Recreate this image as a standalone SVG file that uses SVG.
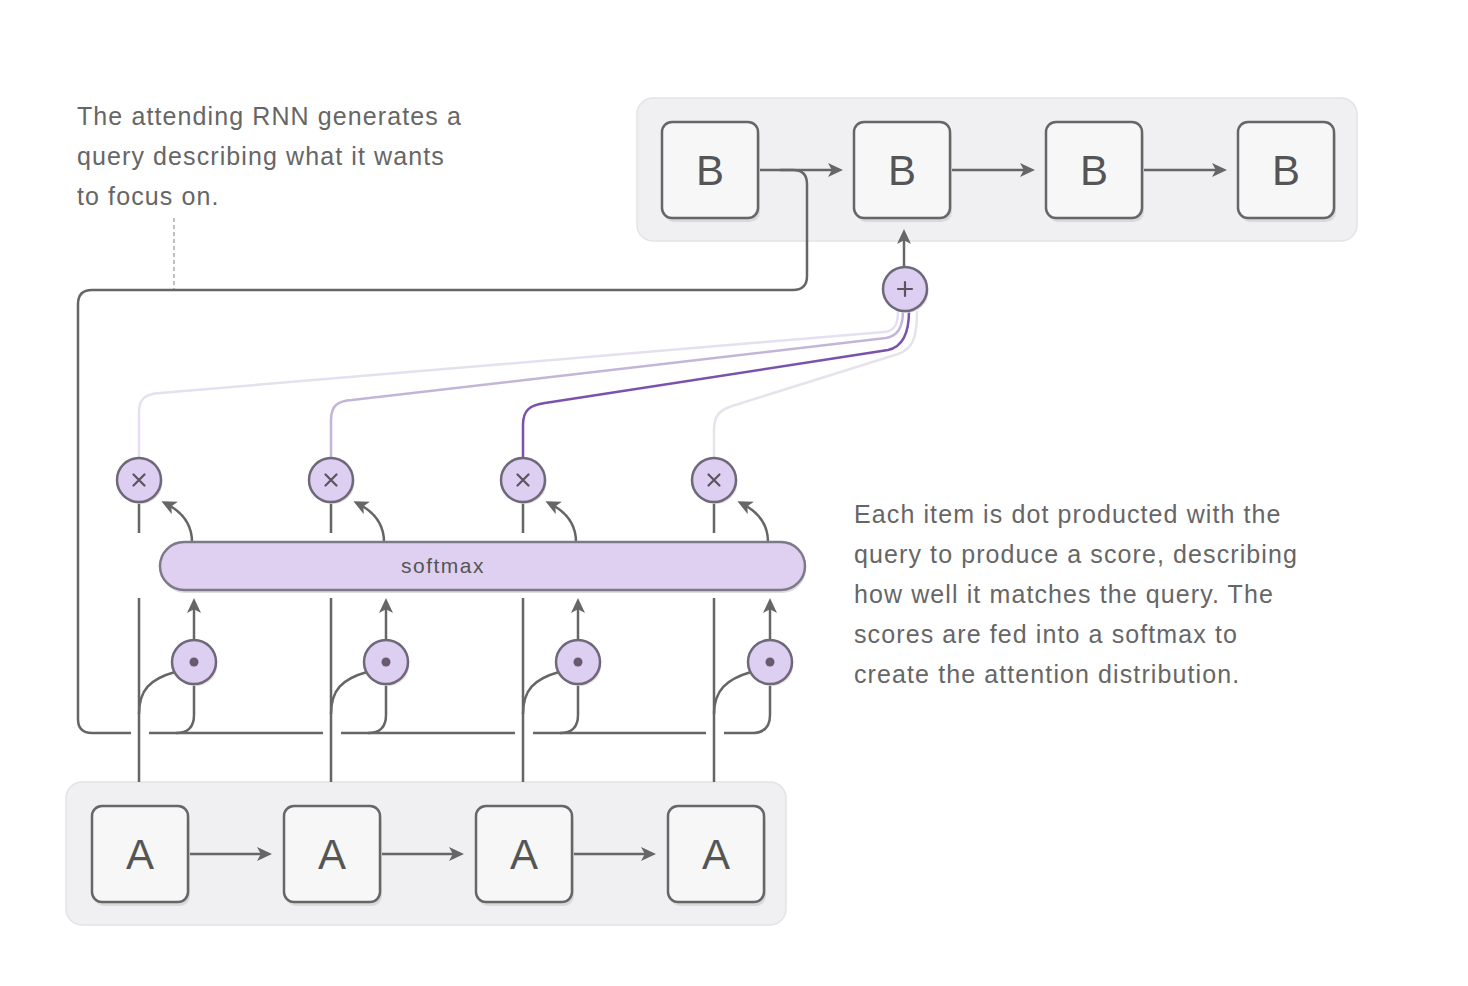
<svg xmlns="http://www.w3.org/2000/svg" width="1468" height="986" viewBox="0 0 1468 986">
<style>
.cont{fill:#f0f0f3;stroke:#e3e3e7;stroke-width:1.5}
.box{fill:#f7f7f8;stroke:#666;stroke-width:2.5}
.shadow{fill:#d9d9de}
.lbl{font-family:"Liberation Sans",Arial,sans-serif;font-size:42px;fill:#555;text-anchor:middle}
.ln{fill:none;stroke:#666;stroke-width:2.5}
.arr{marker-end:url(#ah)}
.op{fill:#dccff1;stroke:#6e6878;stroke-width:2.5}
.opsh{fill:#dcdce0}
.sym{stroke:#5a5560;stroke-width:2.2;fill:none;stroke-linecap:round}
.note{font-family:"Liberation Sans",Arial,sans-serif;font-size:25px;fill:#666;letter-spacing:1.1px}
.pl{fill:none;stroke-width:2.5}
</style>
<defs>
<marker id="ah" viewBox="0 0 15 14" refX="11" refY="7" markerWidth="15" markerHeight="14" markerUnits="userSpaceOnUse" orient="auto"><path d="M0,0 L15,7 L0,14 L3.8,7 z" fill="#666"/></marker>
</defs>
<rect width="1468" height="986" fill="#fff"/>

<g id="containers">
<rect class="cont" x="637" y="98" width="720" height="143" rx="16"/>
<rect class="cont" x="66" y="782" width="720" height="143" rx="16"/>
</g>

<g id="texts">
<text class="note" x="77" y="125">The attending RNN generates a</text>
<text class="note" x="77" y="165">query describing what it wants</text>
<text class="note" x="77" y="205">to focus on.</text>
<text class="note" x="854" y="523">Each item is dot producted with the</text>
<text class="note" x="854" y="563">query to produce a score, describing</text>
<text class="note" x="854" y="603">how well it matches the query. The</text>
<text class="note" x="854" y="643">scores are fed into a softmax to</text>
<text class="note" x="854" y="683">create the attention distribution.</text>
<path d="M174 218 V289" stroke="#aaa" stroke-width="1.5" stroke-dasharray="4 3" fill="none"/>
</g>

<g id="connectors">
<path class="pl" stroke="#e5dff0" d="M139 458 V412 C139 398 146 394 160 393 L884 332 C896 331 898 322 898 311"/>
<path class="pl" stroke="#c3b5da" d="M331 458 V420 C331 405 338 401 352 400 L886 338 C899 336 903 325 903 311"/>
<path class="pl" stroke="#7b52ab" d="M523 458 V425 C523 410 530 405 545 403 L888 350 C902 347 909 335 909 311"/>
<path class="pl" stroke="#e6e3ec" d="M714 458 V430 C714 415 720 410 732 406 L898 354 C912 349 917 340 917 311"/>
<path class="ln arr" d="M758 170 H839"/>
<path class="ln arr" d="M950 170 H1031"/>
<path class="ln arr" d="M1142 170 H1223"/>
<path class="ln arr" d="M904 267 V233"/>
<path class="ln arr" d="M188 854 H268"/>
<path class="ln arr" d="M380 854 H460"/>
<path class="ln arr" d="M572 854 H652"/>
<path class="ln" d="M780 170 H793 Q807 170 807 184 V276 Q807 290 793 290 H92 Q78 290 78 304 V719 Q78 733 92 733 H131"/>
<path class="ln" d="M149 733 H323"/>
<path class="ln" d="M341 733 H515"/>
<path class="ln" d="M533 733 H706"/>
<path class="ln" d="M724 733 H752 Q770 733 770 715 V684"/>
<path class="ln" d="M176 733 Q194 733 194 715 V684"/>
<path class="ln" d="M368 733 Q386 733 386 715 V684"/>
<path class="ln" d="M560 733 Q578 733 578 715 V684"/>
<path class="ln" d="M139 502 V533 M139 598 V782"/>
<path class="ln" d="M331 502 V533 M331 598 V782"/>
<path class="ln" d="M523 502 V533 M523 598 V782"/>
<path class="ln" d="M714 502 V533 M714 598 V782"/>
<path class="ln" d="M139 714 C139 690 150 679 175 672"/>
<path class="ln" d="M331 714 C331 690 342 679 367 672"/>
<path class="ln" d="M523 714 C523 690 534 679 559 672"/>
<path class="ln" d="M714 714 C714 690 727 679 751 672"/>
<path class="ln arr" d="M194 640 V602"/>
<path class="ln arr" d="M386 640 V602"/>
<path class="ln arr" d="M578 640 V602"/>
<path class="ln arr" d="M770 640 V602"/>
<path class="ln arr" d="M192 542 C192 524 183 512 165 503"/>
<path class="ln arr" d="M384 542 C384 524 375 512 357 503"/>
<path class="ln arr" d="M576 542 C576 524 567 512 549 503"/>
<path class="ln arr" d="M768 542 C768 524 759 512 741 503"/>
</g>

<g id="B1"><rect class="shadow" x="664" y="126" width="96" height="96" rx="10"/><rect class="box" x="662" y="122" width="96" height="96" rx="10"/><text class="lbl" x="710" y="185">B</text></g>
<g id="B2"><rect class="shadow" x="856" y="126" width="96" height="96" rx="10"/><rect class="box" x="854" y="122" width="96" height="96" rx="10"/><text class="lbl" x="902" y="185">B</text></g>
<g id="B3"><rect class="shadow" x="1048" y="126" width="96" height="96" rx="10"/><rect class="box" x="1046" y="122" width="96" height="96" rx="10"/><text class="lbl" x="1094" y="185">B</text></g>
<g id="B4"><rect class="shadow" x="1240" y="126" width="96" height="96" rx="10"/><rect class="box" x="1238" y="122" width="96" height="96" rx="10"/><text class="lbl" x="1286" y="185">B</text></g>

<g id="A1"><rect class="shadow" x="94" y="810" width="96" height="96" rx="10"/><rect class="box" x="92" y="806" width="96" height="96" rx="10"/><text class="lbl" x="140" y="869">A</text></g>
<g id="A2"><rect class="shadow" x="286" y="810" width="96" height="96" rx="10"/><rect class="box" x="284" y="806" width="96" height="96" rx="10"/><text class="lbl" x="332" y="869">A</text></g>
<g id="A3"><rect class="shadow" x="478" y="810" width="96" height="96" rx="10"/><rect class="box" x="476" y="806" width="96" height="96" rx="10"/><text class="lbl" x="524" y="869">A</text></g>
<g id="A4"><rect class="shadow" x="670" y="810" width="96" height="96" rx="10"/><rect class="box" x="668" y="806" width="96" height="96" rx="10"/><text class="lbl" x="716" y="869">A</text></g>

<g id="softmax">
<rect x="161" y="545" width="645" height="48" rx="24" fill="#dedee2"/>
<rect x="160" y="542" width="645" height="48" rx="24" fill="#dfd0f2" stroke="#7e7888" stroke-width="2.5"/>
<text x="443" y="573" font-family="Liberation Sans, Arial, sans-serif" font-size="21" fill="#555" text-anchor="middle" letter-spacing="1.5">softmax</text>
</g>

<g id="plus"><circle class="opsh" cx="906.5" cy="291" r="22"/><circle class="op" cx="905" cy="289" r="22"/><path class="sym" d="M898 289 H912 M905 282 V296"/></g>

<g id="mul1"><circle class="opsh" cx="140.5" cy="482" r="22"/><circle class="op" cx="139" cy="480" r="22"/><path class="sym" d="M133.5 474.5 L144.5 485.5 M144.5 474.5 L133.5 485.5"/></g>
<g id="mul2"><circle class="opsh" cx="332.5" cy="482" r="22"/><circle class="op" cx="331" cy="480" r="22"/><path class="sym" d="M325.5 474.5 L336.5 485.5 M336.5 474.5 L325.5 485.5"/></g>
<g id="mul3"><circle class="opsh" cx="524.5" cy="482" r="22"/><circle class="op" cx="523" cy="480" r="22"/><path class="sym" d="M517.5 474.5 L528.5 485.5 M528.5 474.5 L517.5 485.5"/></g>
<g id="mul4"><circle class="opsh" cx="715.5" cy="482" r="22"/><circle class="op" cx="714" cy="480" r="22"/><path class="sym" d="M708.5 474.5 L719.5 485.5 M719.5 474.5 L708.5 485.5"/></g>

<g id="dot1"><circle class="opsh" cx="195.5" cy="664" r="22"/><circle class="op" cx="194" cy="662" r="22"/><circle cx="194" cy="662" r="4.5" fill="#6a5a70"/></g>
<g id="dot2"><circle class="opsh" cx="387.5" cy="664" r="22"/><circle class="op" cx="386" cy="662" r="22"/><circle cx="386" cy="662" r="4.5" fill="#6a5a70"/></g>
<g id="dot3"><circle class="opsh" cx="579.5" cy="664" r="22"/><circle class="op" cx="578" cy="662" r="22"/><circle cx="578" cy="662" r="4.5" fill="#6a5a70"/></g>
<g id="dot4"><circle class="opsh" cx="771.5" cy="664" r="22"/><circle class="op" cx="770" cy="662" r="22"/><circle cx="770" cy="662" r="4.5" fill="#6a5a70"/></g>
</svg>
